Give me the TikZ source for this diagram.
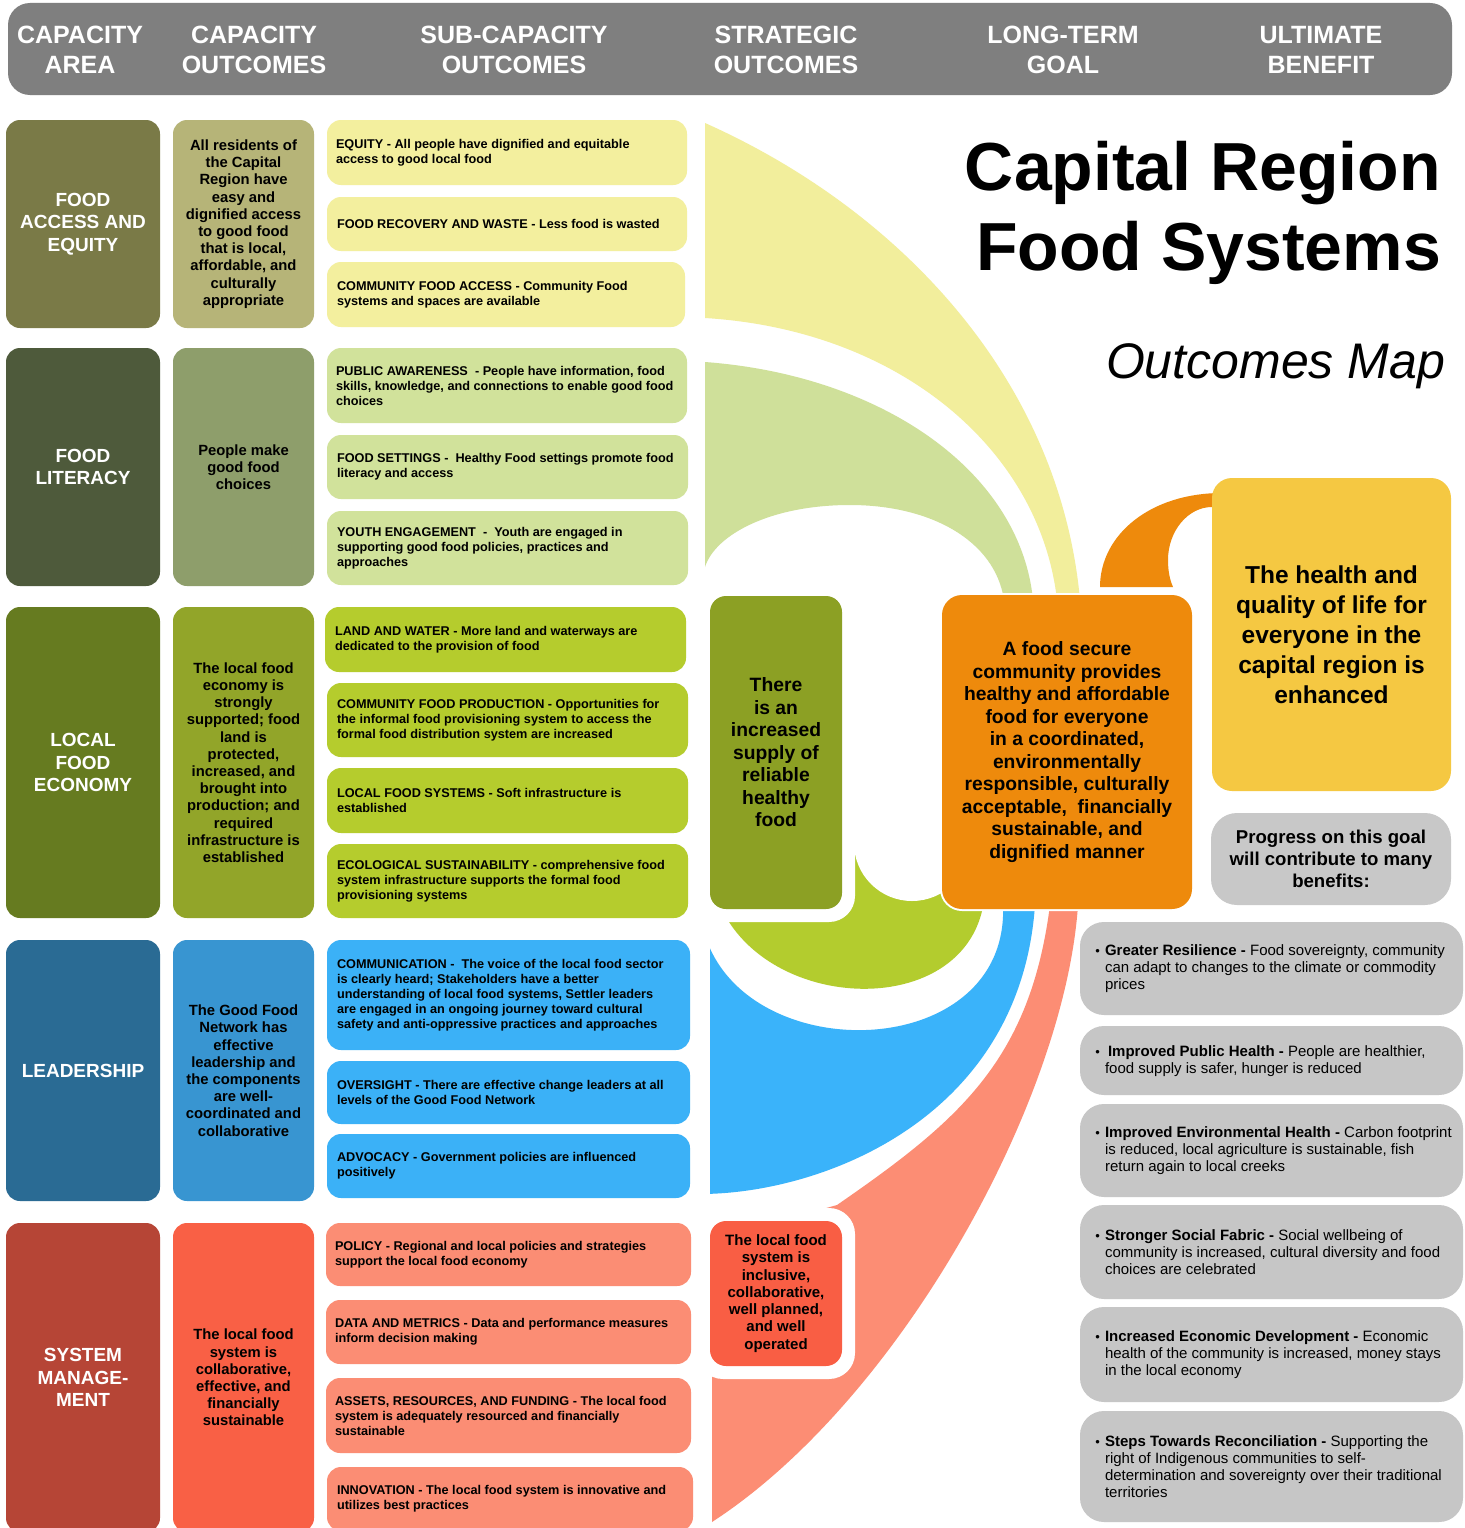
\documentclass[tikz,border=0pt]{standalone}
\usepackage{fontspec}
\setmainfont{Liberation Sans}
\definecolor{hdrgray}{HTML}{7F7F7F}
\definecolor{cAa}{HTML}{7A7A47}
\definecolor{cAb}{HTML}{4E5A3B}
\definecolor{cAc}{HTML}{667B20}
\definecolor{cAd}{HTML}{2A6B94}
\definecolor{cAe}{HTML}{B64536}
\definecolor{cBa}{HTML}{B6B478}
\definecolor{cBb}{HTML}{8E9E6B}
\definecolor{cBc}{HTML}{92A529}
\definecolor{cBd}{HTML}{3895D1}
\definecolor{cBe}{HTML}{F96045}
\definecolor{cCa}{HTML}{F3EF9E}
\definecolor{cCb}{HTML}{D1E29B}
\definecolor{cCc}{HTML}{B5CC2D}
\definecolor{cCd}{HTML}{3BB1F7}
\definecolor{cCe}{HTML}{FB8D74}
\definecolor{bandY}{HTML}{F2EE9C}
\definecolor{bandG}{HTML}{CFE09A}
\definecolor{bandL}{HTML}{B3CC2E}
\definecolor{bandB}{HTML}{3AB3FA}
\definecolor{bandS}{HTML}{FC8D74}
\definecolor{stratG}{HTML}{8CA024}
\definecolor{stratR}{HTML}{F95E44}
\definecolor{orng}{HTML}{EE8A0C}
\definecolor{ylw}{HTML}{F5C842}
\definecolor{gryP}{HTML}{C8C8C8}
\definecolor{gryB}{HTML}{C6C6C6}
% name, style, x1, y1, x2, y2, text
\newcommand{\mybox}[7]{%
  \pgfmathsetmacro\bw{#5-#3}\pgfmathsetmacro\bh{#6-#4}%
  \pgfmathsetmacro\bcx{(#3+#5)/2}\pgfmathsetmacro\bcy{(#4+#6)/2}%
  \node[#2, minimum width=\bw pt, minimum height=\bh pt] (#1) at (\bcx,\bcy) {#7};}
\newcommand{\bul}{\llap{{\fontsize{13}{13}\selectfont\textbullet}\hspace{5pt}}}
\begin{document}
\begin{tikzpicture}[x=1pt,y=-1pt,
  every node/.style={inner sep=0pt, outer sep=0pt},
  hdrtext/.style={font=\fontsize{25}{30}\selectfont\bfseries, text=white, align=center},
  areabox/.style={rounded corners=14pt, align=center, text=white, font=\fontsize{19}{22.5}\selectfont\bfseries},
  outbox/.style={rounded corners=14pt, align=center, font=\fontsize{14.8}{17.2}\selectfont\bfseries},
  subbox/.style={rounded corners=14pt},
  subtext/.style={anchor=west, align=left, font=\fontsize{12.7}{15}\selectfont\bfseries},
  stratbox/.style={rounded corners=16pt, align=center},
  backing/.style={fill=white, rounded corners=26pt},
  benbox/.style={rounded corners=24pt, fill=gryB},
  bentext/.style={anchor=west, align=left, font=\fontsize{15}{17}\selectfont},
  bigtext/.style={align=center, font=\fontsize{19.3}{22.5}\selectfont\bfseries}
]
\useasboundingbox (0,0) rectangle (1464,1528);
\fill[white] (0,0) rectangle (1464,1528);

% ---------- header ----------
\fill[hdrgray, rounded corners=22pt] (8,3) rectangle (1452,95);
\node[hdrtext] (h1) at (80,50) {CAPACITY\\AREA};
\node[hdrtext] (h2) at (254,50) {CAPACITY\\OUTCOMES};
\node[hdrtext] (h3) at (514,50) {SUB-CAPACITY\\OUTCOMES};
\node[hdrtext] (h4) at (786,50) {STRATEGIC\\OUTCOMES};
\node[hdrtext] (h5) at (1063,50) {LONG-TERM\\GOAL};
\node[hdrtext] (h6) at (1321,50) {ULTIMATE\\BENEFIT};

% ---------- bands ----------
\begin{scope}
\clip (705,100) rectangle (1464,1528);
% salmon
\fill[bandS] (712,1522) .. controls (900,1400) and (1065,1100) .. (1078,905)
  -- (1050,905) .. controls (1030,1060) and (960,1120) .. (837,1205) -- (712,1240) -- cycle;
% blue
\begin{scope}
\clip (710,100) rectangle (1464,1528);
\fill[bandB] (1035,905) .. controls (1020,1120) and (820,1194) .. (700,1194)
  -- (700,910) .. controls (715,1070) and (1010,1072) .. (1003,905) -- cycle;
\end{scope}
% lime
\fill[bandL] (712,845) -- (985,845) -- (985,880) .. controls (990,1030) and (740,1020) .. (712,880) -- cycle;
\fill[white] (912,843) circle[radius=58];
% yellow
\fill[bandY] (705,123) .. controls (900,210) and (1060,380) .. (1080,600)
  -- (1057,600) .. controls (1040,450) and (900,330) .. (705,318) -- cycle;
% light green
\fill[bandG] (705,362) .. controls (880,375) and (1020,470) .. (1033,600)
  -- (1004,600) .. controls (995,540) and (930,505) .. (850,505)
  .. controls (770,505) and (715,535) .. (705,567) -- cycle;
\end{scope}
% orange arc to ultimate benefit
\fill[orng] (1100,587) .. controls (1100,535) and (1150,493) .. (1222,493)
  -- (1222,507) -- (1212,507) .. controls (1188,507) and (1168,531) .. (1168,560)
  .. controls (1168,572) and (1170,580) .. (1173,587) -- cycle;

% ---------- capacity areas ----------
\mybox{a1}{areabox, fill=cAa}{6}{120}{160}{328}{FOOD\\ACCESS AND\\EQUITY}
\mybox{a2}{areabox, fill=cAb}{6}{348}{160}{586}{FOOD\\LITERACY}
\mybox{a3}{areabox, fill=cAc}{6}{607}{160}{918}{LOCAL\\FOOD\\ECONOMY}
\mybox{a4}{areabox, fill=cAd}{6}{940}{160}{1201}{LEADERSHIP}
\mybox{a5}{areabox, fill=cAe}{6}{1223}{160}{1532}{SYSTEM\\MANAGE-\\MENT}

% ---------- capacity outcomes ----------
\mybox{o1}{outbox, fill=cBa}{173}{120}{314}{328}{All residents of\\the Capital\\Region have\\easy and\\dignified access\\to good food\\that is local,\\affordable, and\\culturally\\appropriate}
\mybox{o2}{outbox, fill=cBb}{173}{348}{314}{586}{People make\\good food\\choices}
\mybox{o3}{outbox, fill=cBc}{173}{607}{314}{918}{The local food\\economy is\\strongly\\supported; food\\land is\\protected,\\increased, and\\brought into\\production; and\\required\\infrastructure is\\established}
\mybox{o4}{outbox, fill=cBd}{173}{940}{314}{1201}{The Good Food\\Network has\\effective\\leadership and\\the components\\are well-\\coordinated and\\collaborative}
\mybox{o5}{outbox, fill=cBe}{173}{1223}{314}{1532}{The local food\\system is\\collaborative,\\effective, and\\financially\\sustainable}

% ---------- sub-capacity outcomes ----------
\mybox{s11}{subbox, fill=cCa}{327}{120}{687}{185}{}
\node[subtext] (s11t) at ([xshift=9pt]s11.west) {EQUITY - All people have dignified and equitable\\access to good local food};
\mybox{s12}{subbox, fill=cCa}{327}{197}{687}{251}{}
\node[subtext] (s12t) at ([xshift=10pt]s12.west) {FOOD RECOVERY AND WASTE - Less food is wasted};
\mybox{s13}{subbox, fill=cCa}{327}{262}{685}{327}{}
\node[subtext] (s13t) at ([xshift=10pt]s13.west) {COMMUNITY FOOD ACCESS - Community Food\\systems and spaces are available};

\mybox{s21}{subbox, fill=cCb}{327}{348}{687}{423}{}
\node[subtext] (s21t) at ([xshift=9pt]s21.west) {PUBLIC AWARENESS \ - People have information, food\\skills, knowledge, and connections to enable good food\\choices};
\mybox{s22}{subbox, fill=cCb}{327}{435}{688}{499}{}
\node[subtext] (s22t) at ([xshift=10pt]s22.west) {FOOD SETTINGS - \ Healthy Food settings promote food\\literacy and access};
\mybox{s23}{subbox, fill=cCb}{327}{511}{688}{585}{}
\node[subtext] (s23t) at ([xshift=10pt]s23.west) {YOUTH ENGAGEMENT \ - \ Youth are engaged in\\supporting good food policies, practices and\\approaches};

\mybox{s31}{subbox, fill=cCc}{325}{607}{686}{672}{}
\node[subtext] (s31t) at ([xshift=10pt]s31.west) {LAND AND WATER - More land and waterways are\\dedicated to the provision of food};
\mybox{s32}{subbox, fill=cCc}{327}{683}{688}{757}{}
\node[subtext] (s32t) at ([xshift=10pt]s32.west) {COMMUNITY FOOD PRODUCTION - Opportunities for\\the informal food provisioning system to access the\\formal food distribution system are increased};
\mybox{s33}{subbox, fill=cCc}{327}{768}{688}{833}{}
\node[subtext] (s33t) at ([xshift=10pt]s33.west) {LOCAL FOOD SYSTEMS - Soft infrastructure is\\established};
\mybox{s34}{subbox, fill=cCc}{327}{844}{688}{918}{}
\node[subtext] (s34t) at ([xshift=10pt]s34.west) {ECOLOGICAL SUSTAINABILITY - comprehensive food\\system infrastructure supports the formal food\\provisioning systems};

\mybox{s41}{subbox, fill=cCd}{327}{940}{690}{1050}{}
\node[subtext] (s41t) at ([xshift=10pt]s41.west) {COMMUNICATION - \ The voice of the local food sector\\is clearly heard; Stakeholders have a better\\understanding of local food systems, Settler leaders\\are engaged in an ongoing journey toward cultural\\safety and anti-oppressive practices and approaches};
\mybox{s42}{subbox, fill=cCd}{327}{1061}{690}{1124}{}
\node[subtext] (s42t) at ([xshift=10pt]s42.west) {OVERSIGHT - There are effective change leaders at all\\levels of the Good Food Network};
\mybox{s43}{subbox, fill=cCd}{327}{1134}{690}{1198}{}
\node[subtext] (s43t) at ([xshift=10pt]s43.west) {ADVOCACY - Government policies are influenced\\positively};

\mybox{s51}{subbox, fill=cCe}{326}{1223}{691}{1286}{}
\node[subtext] (s51t) at ([xshift=9pt]s51.west) {POLICY - Regional and local policies and strategies\\support the local food economy};
\mybox{s52}{subbox, fill=cCe}{326}{1300}{691}{1364}{}
\node[subtext] (s52t) at ([xshift=9pt]s52.west) {DATA AND METRICS - Data and performance measures\\inform decision making};
\mybox{s53}{subbox, fill=cCe}{326}{1378}{691}{1453}{}
\node[subtext] (s53t) at ([xshift=9pt]s53.west) {ASSETS, RESOURCES, AND FUNDING - The local food\\system is adequately resourced and financially\\sustainable};
\mybox{s54}{subbox, fill=cCe}{327}{1467}{693}{1531}{}
\node[subtext] (s54t) at ([xshift=10pt]s54.west) {INNOVATION - The local food system is innovative and\\utilizes best practices};

% ---------- strategic outcomes ----------
\fill[backing] (697,583) rectangle (855,922);
\mybox{g1}{stratbox, fill=stratG, font=\fontsize{19.3}{22.5}\selectfont\bfseries}{710}{596}{842}{909}{There\\is an\\increased\\supply of\\reliable\\healthy\\food}
\fill[backing] (697,1208) rectangle (855,1379);
\mybox{g2}{stratbox, fill=stratR, font=\fontsize{15}{17.3}\selectfont\bfseries}{710}{1221}{842}{1366}{The local food\\system is\\inclusive,\\collaborative,\\well planned,\\and well\\operated}

% ---------- long-term goal ----------
\fill[white, rounded corners=22pt] (940,593) rectangle (1194,911);
\mybox{lt}{bigtext, fill=orng, rounded corners=20pt}{942}{595}{1192}{909}{A food secure\\community provides\\healthy and affordable\\food for everyone\\in a coordinated,\\environmentally\\responsible, culturally\\acceptable, \ financially\\sustainable, and\\dignified manner}

% ---------- ultimate benefit ----------
\mybox{ub}{fill=ylw, rounded corners=20pt, align=center, font=\fontsize{24.5}{30}\selectfont\bfseries}{1212}{478}{1451}{791}{The health and\\quality of life for\\everyone in the\\capital region is\\enhanced}
\mybox{pg}{fill=gryP, rounded corners=26pt, align=center, font=\fontsize{18.6}{22}\selectfont\bfseries}{1211}{813}{1451}{905}{Progress on this goal\\will contribute to many\\benefits:}

\mybox{b1}{benbox}{1080}{922}{1463}{1015}{}
\node[bentext] (b1t) at (1105,968.5) {\bul\textbf{Greater Resilience -} Food sovereignty, community\\can adapt to changes to the climate or commodity\\prices};
\mybox{b2}{benbox}{1080}{1026}{1463}{1095}{}
\node[bentext] (b2t) at (1105,1061) {\bul\hspace{3pt}\textbf{Improved Public Health -} People are healthier,\\food supply is safer, hunger is reduced};
\mybox{b3}{benbox}{1080}{1104}{1463}{1197}{}
\node[bentext] (b3t) at (1105,1150.5) {\bul\textbf{Improved Environmental Health -} Carbon footprint\\is reduced, local agriculture is sustainable, fish\\return again to local creeks};
\mybox{b4}{benbox}{1080}{1205}{1463}{1299}{}
\node[bentext] (b4t) at (1105,1252) {\bul\textbf{Stronger Social Fabric -} Social wellbeing of\\community is increased, cultural diversity and food\\choices are celebrated};
\mybox{b5}{benbox}{1080}{1307}{1463}{1402}{}
\node[bentext] (b5t) at (1105,1354.5) {\bul\textbf{Increased Economic Development -} Economic\\health of the community is increased, money stays\\in the local economy};
\mybox{b6}{benbox}{1080}{1411}{1463}{1522}{}
\node[bentext] (b6t) at (1105,1466.5) {\bul\textbf{Steps Towards Reconciliation -} Supporting the\\right of Indigenous communities to self-\\determination and sovereignty over their traditional\\territories};

% ---------- title ----------
\node[anchor=base east, font=\fontsize{68}{68}\selectfont\bfseries] (t1) at (1441,190) {Capital Region};
\node[anchor=base east, font=\fontsize{68}{68}\selectfont\bfseries] (t2) at (1441,270) {Food Systems};
\node[anchor=base east, font=\fontsize{50}{50}\selectfont\itshape] (t3) at (1445,378) {Outcomes Map};
\end{tikzpicture}
\end{document}
